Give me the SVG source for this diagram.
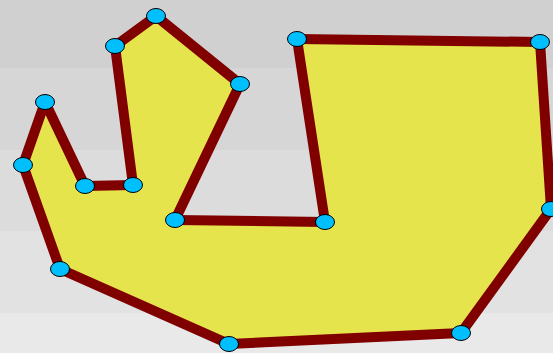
<svg xmlns="http://www.w3.org/2000/svg" width="553" height="353" viewBox="0 0 553 353">
<style>
.edge{stroke:#800000;stroke-width:10;stroke-linecap:round;fill:none}
.v{fill:#00bfff;stroke:#000;stroke-width:1}
</style>
<defs>
<ellipse id="pt" class="v" rx="9.5" ry="7.5"/>
</defs>
<g id="background">
<rect x="0" y="0" width="553" height="68" fill="#d0d0d0"/>
<rect x="0" y="68" width="553" height="82" fill="#d6d6d6"/>
<rect x="0" y="150" width="553" height="81" fill="#dcdcdc"/>
<rect x="0" y="231" width="553" height="82" fill="#e2e2e2"/>
<rect x="0" y="313" width="553" height="40" fill="#e9e9e9"/>
</g>
<polygon id="shape" points="297,39 540,42 551,209 461,333 229,344 60,269 23,165 45,102 85,186 133,185 115,46 156,16 240,84 175,220 325,222" fill="#e6e44c"/>
<g id="connectors">
<line class="edge" x1="297" y1="39" x2="540" y2="42"/>
<line class="edge" x1="540" y1="42" x2="551" y2="209"/>
<line class="edge" x1="551" y1="209" x2="461" y2="333"/>
<line class="edge" x1="461" y1="333" x2="229" y2="344"/>
<line class="edge" x1="229" y1="344" x2="60" y2="269"/>
<line class="edge" x1="60" y1="269" x2="23" y2="165"/>
<line class="edge" x1="23" y1="165" x2="45" y2="102"/>
<line class="edge" x1="45" y1="102" x2="85" y2="186"/>
<line class="edge" x1="85" y1="186" x2="133" y2="185"/>
<line class="edge" x1="133" y1="185" x2="115" y2="46"/>
<line class="edge" x1="115" y1="46" x2="156" y2="16"/>
<line class="edge" x1="156" y1="16" x2="240" y2="84"/>
<line class="edge" x1="240" y1="84" x2="175" y2="220"/>
<line class="edge" x1="175" y1="220" x2="325" y2="222"/>
<line class="edge" x1="325" y1="222" x2="297" y2="39"/>
</g>
<g id="v1"><use href="#pt" x="297" y="39"/></g>
<g id="v2"><use href="#pt" x="540" y="42"/></g>
<g id="v3"><use href="#pt" x="551" y="209"/></g>
<g id="v4"><use href="#pt" x="461" y="333"/></g>
<g id="v5"><use href="#pt" x="229" y="344"/></g>
<g id="v6"><use href="#pt" x="60" y="269"/></g>
<g id="v7"><use href="#pt" x="23" y="165"/></g>
<g id="v8"><use href="#pt" x="45" y="102"/></g>
<g id="v9"><use href="#pt" x="85" y="186"/></g>
<g id="v10"><use href="#pt" x="133" y="185"/></g>
<g id="v11"><use href="#pt" x="115" y="46"/></g>
<g id="v12"><use href="#pt" x="156" y="16"/></g>
<g id="v13"><use href="#pt" x="240" y="84"/></g>
<g id="v14"><use href="#pt" x="175" y="220"/></g>
<g id="v15"><use href="#pt" x="325" y="222"/></g>
</svg>
